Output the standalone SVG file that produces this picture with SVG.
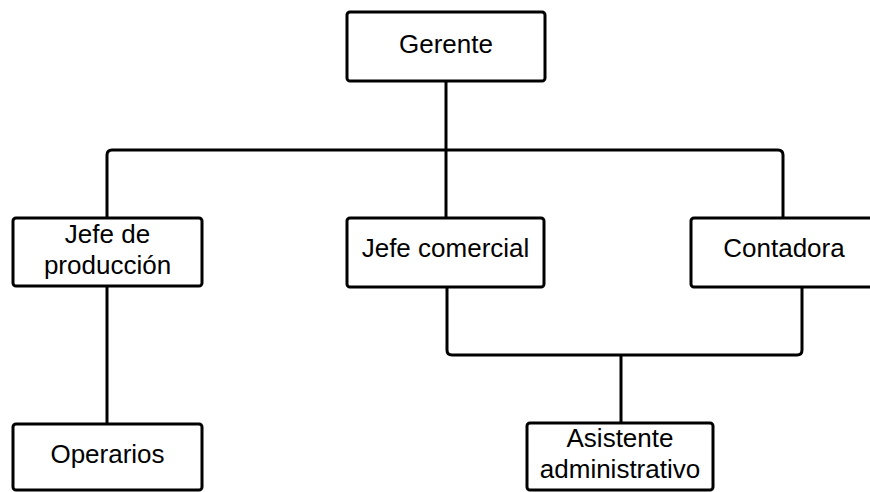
<svg xmlns="http://www.w3.org/2000/svg" width="870" height="492" viewBox="0 0 870 492">
  <style>
    .box { fill: #ffffff; stroke: #000000; stroke-width: 3; }
    .lbl { font-family: "Liberation Sans", Arial, sans-serif; font-size: 26px; fill: #000000; text-anchor: middle; }
    .wire { fill: none; stroke: #000000; stroke-width: 3; stroke-linejoin: round; }
  </style>
  <rect width="870" height="492" fill="#ffffff"/>

  <!-- connectors -->
  <g id="connectors">
    <path class="wire" d="M446,81 V218"/>
    <path class="wire" d="M107,218 V155 Q107,150 112,150 H778 Q783,150 783,155 V218"/>
    <path class="wire" d="M107,286 V424"/>
    <path class="wire" d="M447,287 V350 Q447,355 452,355 H797 Q802,355 802,350 V287"/>
    <path class="wire" d="M621,355 V423"/>
  </g>

  <!-- nodes -->
  <g id="gerente">
    <rect class="box" x="347" y="12" width="198" height="69" rx="3"/>
    <text class="lbl" x="446" y="53">Gerente</text>
  </g>
  <g id="jefe-produccion">
    <rect class="box" x="13" y="218" width="189" height="68" rx="3"/>
    <text class="lbl" x="107.5" y="243">Jefe de</text>
    <text class="lbl" x="107.5" y="274">producción</text>
  </g>
  <g id="jefe-comercial">
    <rect class="box" x="347" y="218" width="197" height="69" rx="3"/>
    <text class="lbl" x="445.5" y="257">Jefe comercial</text>
  </g>
  <g id="contadora">
    <rect class="box" x="691" y="218" width="186" height="69" rx="3"/>
    <text class="lbl" x="784" y="257">Contadora</text>
  </g>
  <g id="operarios">
    <rect class="box" x="13" y="424" width="189" height="66" rx="3"/>
    <text class="lbl" x="107.5" y="463">Operarios</text>
  </g>
  <g id="asistente">
    <rect class="box" x="527" y="423" width="186" height="67" rx="3"/>
    <text class="lbl" x="620" y="447">Asistente</text>
    <text class="lbl" x="620" y="478">administrativo</text>
  </g>
</svg>
